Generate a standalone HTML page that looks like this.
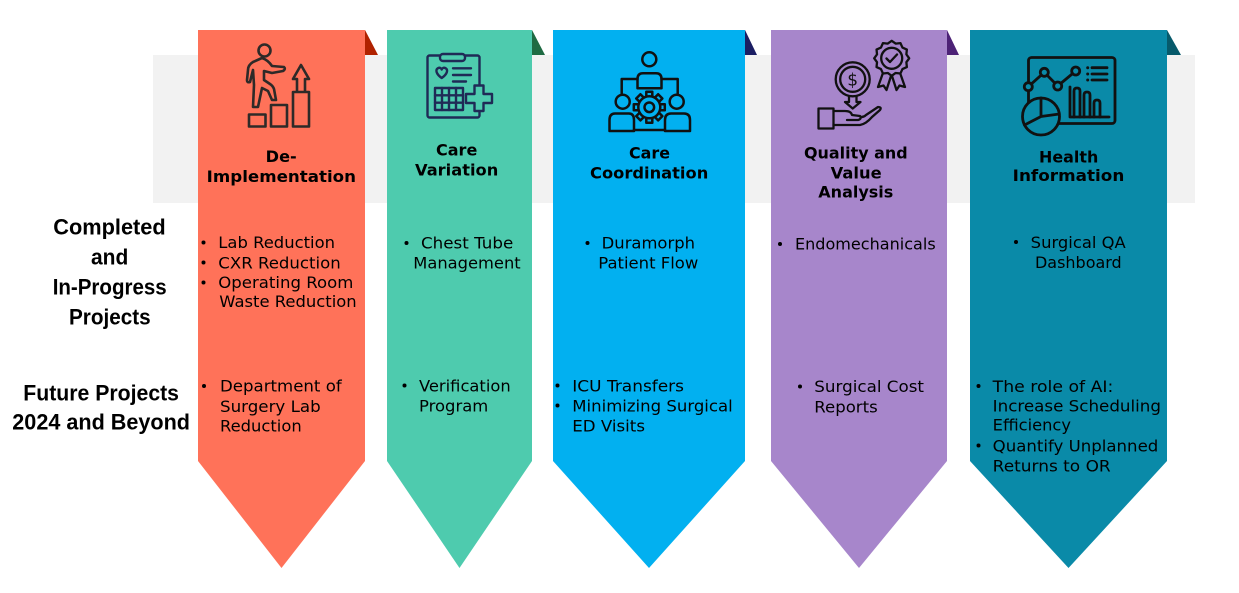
<!DOCTYPE html>
<html><head><meta charset="utf-8">
<style>
html,body{margin:0;padding:0;background:#fff;}
svg{display:block;}
.b{font-family:"DejaVu Sans","Liberation Sans",sans-serif;font-size:16px;fill:#000;}
.h{font-family:"DejaVu Sans","Liberation Sans",sans-serif;font-size:16px;font-weight:bold;fill:#000;}
.l{font-family:"Liberation Sans","DejaVu Sans",sans-serif;font-size:22px;font-weight:bold;fill:#000;}
</style></head>
<body>
<svg width="1239" height="593" viewBox="0 0 1239 593" xmlns="http://www.w3.org/2000/svg">
<rect x="0" y="0" width="1239" height="593" fill="#fff"/>
<!-- gray band -->
<rect x="153" y="55" width="1042" height="148" fill="#F2F2F2"/>

<!-- fold triangles -->
<polygon points="365,30 378,55 365,55" fill="#B02200"/>
<polygon points="532,30 545,55 532,55" fill="#1F6B43"/>
<polygon points="745,30 757,55 745,55" fill="#1B1E63"/>
<polygon points="947,30 959,55 947,55" fill="#4D2276"/>
<polygon points="1167,30 1181,55 1167,55" fill="#075A6B"/>

<!-- columns -->
<polygon points="198,30 365,30 365,461 281.5,568 198,461" fill="#FF7259"/>
<polygon points="387,30 532,30 532,461 459.5,568 387,461" fill="#4ECBAE"/>
<polygon points="553,30 745,30 745,461 649,568 553,461" fill="#02B0F0"/>
<polygon points="771,30 947,30 947,461 859,568 771,461" fill="#A786CB"/>
<polygon points="970,30 1167,30 1167,461 1068.5,568 970,461" fill="#0A8AA8"/>

<!-- Icon 1: climbing person -->
<g fill="none" stroke="#2E2A28" stroke-width="2.6" stroke-linejoin="round" stroke-linecap="round">
  <circle cx="264.5" cy="50.5" r="6"/>
  <path d="M262,58 L253,62 Q248,65 248,70 L247,80 Q247,83 250,82 L253,70 L254,85 L253,107 L258,107 L262,88 L268,91 L272,100 L276,100 L274,89 Q273,86 270,84 L264,80 L264,71 L272,73 L283,71 Q286,69 284,67 L272,66 Q268,60 262,58 Z"/>
  <rect x="249" y="114.5" width="16.5" height="12"/>
  <rect x="271" y="105" width="16" height="21.5"/>
  <rect x="293" y="92" width="16" height="34.5"/>
  <path d="M297,91.5 V79 H293 L301,65 L309,79 H305 V91.5"/>
</g>

<!-- Icon 2: clipboard -->
<g fill="none" stroke="#1F2A56" stroke-width="2.4" stroke-linejoin="round" stroke-linecap="round">
  <rect x="427.5" y="55.5" width="52" height="62" rx="2"/>
  <rect x="440" y="54" width="25" height="7" rx="3" fill="#4ECBAE"/>
  <path d="M441.7,78 C436,74 435.5,70 437.5,68.5 C439.5,67 441.2,68 441.7,69.5 C442.2,68 444,67 446,68.5 C448,70 447.5,74 441.7,78 Z"/>
  <path d="M453,68.3 H471 M453,75 H471 M453,81.5 H466"/>
  <rect x="435" y="88" width="28" height="22"/>
  <path d="M442,88 V110 M449,88 V110 M456,88 V110 M435,95.3 H463 M435,102.7 H463"/>
  <path d="M474.5,85.5 H483.5 V94 H492 V103 H483.5 V111 H474.5 V103 H466 V94 H474.5 Z" fill="#4ECBAE"/>
</g>

<!-- Icon 3: team + gear -->
<g fill="none" stroke="#111" stroke-width="2.5" stroke-linejoin="round" stroke-linecap="round">
  <circle cx="649.3" cy="59.3" r="7"/>
  <path d="M637.5,88.3 V79 Q637.5,73.3 643,73.3 H656 Q661.5,73.3 661.5,79 V88.3 Z"/>
  <path d="M637.5,79 H621.7 V94 M661.5,79 H677.7 V94"/>
  <circle cx="622.7" cy="101.7" r="7"/>
  <path d="M609.5,131 V120 Q609.5,113.5 615,113.5 H629 Q634,113.5 634,120 V131 Z"/>
  <circle cx="676.7" cy="101.7" r="7"/>
  <path d="M665,131 V120 Q665,113.5 671,113.5 H684 Q690,113.5 690,120 V131 Z"/>
  <path d="M634,130 H665"/>
  <g transform="translate(649.3,107.3)">
    <rect x="-3" y="-15.5" width="6" height="6" fill="#02B0F0"/>
    <rect x="-3" y="-15.5" width="6" height="6" fill="#02B0F0" transform="rotate(45)"/>
    <rect x="-3" y="-15.5" width="6" height="6" fill="#02B0F0" transform="rotate(90)"/>
    <rect x="-3" y="-15.5" width="6" height="6" fill="#02B0F0" transform="rotate(135)"/>
    <rect x="-3" y="-15.5" width="6" height="6" fill="#02B0F0" transform="rotate(180)"/>
    <rect x="-3" y="-15.5" width="6" height="6" fill="#02B0F0" transform="rotate(225)"/>
    <rect x="-3" y="-15.5" width="6" height="6" fill="#02B0F0" transform="rotate(270)"/>
    <rect x="-3" y="-15.5" width="6" height="6" fill="#02B0F0" transform="rotate(315)"/>
    <circle r="11" fill="#02B0F0"/>
    <circle r="4.8"/>
  </g>
</g>

<!-- Icon 4: money hand + badge -->
<g fill="none" stroke="#111" stroke-width="2.3" stroke-linejoin="round" stroke-linecap="round">
  <circle cx="852.7" cy="79.3" r="17"/>
  <circle cx="852.7" cy="79.3" r="12.5"/>
  <path d="M849,96.5 V102 H845 L852.7,108.5 L860.5,102 H856.5 V96.5"/>
  <rect x="818.5" y="108.5" width="15" height="20"/>
  <path d="M833.5,111 L845,111 Q851,111 852,115 L860,116 Q862,119 858,120 L847,120 M833.5,125 L860,125 Q866,124 872,117 L880,110 Q882,107 878,107 L866,115 Q864,117 861,117"/>
  <path d="M884,70 L878,87 L883.5,85.5 L886.5,90 L891,76 M899,70 L905,87 L899.5,85.5 L896.5,90 L892,76"/>
  <polygon transform="translate(891.7,58.3)" fill="#A786CB" points="17.5,0 14.68,3.93 15.16,8.75 10.75,10.75 8.75,15.16 3.93,14.68 0,17.5 -3.93,14.68 -8.75,15.16 -10.75,10.75 -15.16,8.75 -14.68,3.93 -17.5,0 -14.68,-3.93 -15.16,-8.75 -10.75,-10.75 -8.75,-15.16 -3.93,-14.68 0,-17.5 3.93,-14.68 8.75,-15.16 10.75,-10.75 15.16,-8.75 14.68,-3.93"/>
  <circle cx="891.7" cy="58.3" r="10.5"/>
  <path d="M886.5,58.5 L890,62 L897,54.5"/>
</g>
<text x="852.7" y="85.5" text-anchor="middle" font-family="DejaVu Sans, sans-serif" font-size="17" fill="#111">$</text>

<!-- Icon 5: dashboard -->
<g fill="none" stroke="#111" stroke-width="2.8" stroke-linejoin="round" stroke-linecap="round">
  <rect x="1028.5" y="57.5" width="86.5" height="66" rx="3"/>
  <polyline points="1028.3,86.7 1044.3,72.3 1057.7,86 1075.7,71"/>
  <circle cx="1028.3" cy="86.7" r="4" fill="#0A8AA8"/>
  <circle cx="1044.3" cy="72.3" r="4" fill="#0A8AA8"/>
  <circle cx="1057.7" cy="86" r="4" fill="#0A8AA8"/>
  <circle cx="1075.7" cy="71" r="4" fill="#0A8AA8"/>
  <path d="M1092,67.7 H1107 M1092,74 H1107 M1092,80 H1107"/>
  <path d="M1070,87 V117 H1109"/>
  <path d="M1074,117 V91 Q1074,88 1077,88 Q1080,88 1080,91 V117 M1084,117 V95 Q1084,92 1087,92 Q1090,92 1090,95 V117 M1094,117 V103 Q1094,100 1097,100 Q1100,100 1100,103 V117"/>
  <circle cx="1041" cy="116.5" r="18.5" fill="#0A8AA8"/>
  <path d="M1041,98 V116.5 L1059.3,114 M1041,116.5 L1024.5,125"/>
</g>
<g fill="#111">
  <circle cx="1087.7" cy="67.7" r="1.5"/><circle cx="1087.7" cy="74" r="1.5"/><circle cx="1087.7" cy="80" r="1.5"/>
</g>

<!-- Headers -->
<text class="h" x="265.7" y="162" textLength="31" lengthAdjust="spacingAndGlyphs">De-</text>
<text class="h" x="206.7" y="182" textLength="149.3" lengthAdjust="spacingAndGlyphs">Implementation</text>
<text class="h" x="436" y="155.3" textLength="41.3" lengthAdjust="spacingAndGlyphs">Care</text>
<text class="h" x="415" y="175.3" textLength="83.3" lengthAdjust="spacingAndGlyphs">Variation</text>
<text class="h" x="629" y="158.3" textLength="41" lengthAdjust="spacingAndGlyphs">Care</text>
<text class="h" x="590" y="178.3" textLength="118.3" lengthAdjust="spacingAndGlyphs">Coordination</text>
<text class="h" x="804" y="158.3" textLength="103.7" lengthAdjust="spacingAndGlyphs">Quality and</text>
<text class="h" x="830.7" y="178.3" textLength="51" lengthAdjust="spacingAndGlyphs">Value</text>
<text class="h" x="818.3" y="197.7" textLength="75" lengthAdjust="spacingAndGlyphs">Analysis</text>
<text class="h" x="1039" y="162.7" textLength="59.3" lengthAdjust="spacingAndGlyphs">Health</text>
<text class="h" x="1012.7" y="181" textLength="111.6" lengthAdjust="spacingAndGlyphs">Information</text>

<!-- Left labels -->
<text class="l" x="53.3" y="234.3" textLength="112.4" lengthAdjust="spacingAndGlyphs">Completed</text>
<text class="l" x="91" y="264.3" textLength="37.3" lengthAdjust="spacingAndGlyphs">and</text>
<text class="l" x="52.7" y="294.3" textLength="114" lengthAdjust="spacingAndGlyphs">In-Progress</text>
<text class="l" x="69" y="324.3" textLength="81.7" lengthAdjust="spacingAndGlyphs">Projects</text>
<text class="l" x="23.3" y="400.3" textLength="155.7" lengthAdjust="spacingAndGlyphs">Future Projects</text>
<text class="l" x="12.3" y="429.3" textLength="177.7" lengthAdjust="spacingAndGlyphs">2024 and Beyond</text>

<!-- Bullets -->
<g fill="#000">
  <circle cx="203.5" cy="242.5" r="2"/><circle cx="203.5" cy="262.5" r="2"/><circle cx="203.5" cy="282.5" r="2"/>
  <circle cx="204" cy="386" r="2"/>
  <circle cx="406.5" cy="243" r="2"/><circle cx="404.5" cy="385.5" r="2"/>
  <circle cx="587.5" cy="243" r="2"/><circle cx="557.5" cy="385.5" r="2"/><circle cx="557.5" cy="405.5" r="2"/>
  <circle cx="780" cy="244" r="2"/><circle cx="800" cy="386.5" r="2"/>
  <circle cx="1016" cy="242" r="2"/><circle cx="978.5" cy="386" r="2"/><circle cx="978.5" cy="445.5" r="2"/>
</g>

<!-- Body text -->
<text class="b" x="218.3" y="248" textLength="116.7" lengthAdjust="spacingAndGlyphs">Lab Reduction</text>
<text class="b" x="218.3" y="268.3" textLength="122.4" lengthAdjust="spacingAndGlyphs">CXR Reduction</text>
<text class="b" x="218.3" y="288" textLength="135" lengthAdjust="spacingAndGlyphs">Operating Room</text>
<text class="b" x="219.3" y="307" textLength="137.4" lengthAdjust="spacingAndGlyphs">Waste Reduction</text>
<text class="b" x="220" y="391.6" textLength="121.7" lengthAdjust="spacingAndGlyphs">Department of</text>
<text class="b" x="220" y="412" textLength="100.7" lengthAdjust="spacingAndGlyphs">Surgery Lab</text>
<text class="b" x="220" y="431.3" textLength="81.7" lengthAdjust="spacingAndGlyphs">Reduction</text>

<text class="b" x="421" y="248.6" textLength="92.3" lengthAdjust="spacingAndGlyphs">Chest Tube</text>
<text class="b" x="413.3" y="268.6" textLength="107.4" lengthAdjust="spacingAndGlyphs">Management</text>
<text class="b" x="419" y="391.3" textLength="91.7" lengthAdjust="spacingAndGlyphs">Verification</text>
<text class="b" x="419" y="411.3" textLength="69.3" lengthAdjust="spacingAndGlyphs">Program</text>

<text class="b" x="601.7" y="248.6" textLength="93.3" lengthAdjust="spacingAndGlyphs">Duramorph</text>
<text class="b" x="598.3" y="268.6" textLength="100" lengthAdjust="spacingAndGlyphs">Patient Flow</text>
<text class="b" x="572.3" y="391.3" textLength="111.7" lengthAdjust="spacingAndGlyphs">ICU Transfers</text>
<text class="b" x="572.3" y="411.3" textLength="160.4" lengthAdjust="spacingAndGlyphs">Minimizing Surgical</text>
<text class="b" x="572.3" y="431.3" textLength="72.7" lengthAdjust="spacingAndGlyphs">ED Visits</text>

<text class="b" x="795" y="249.6" textLength="140.7" lengthAdjust="spacingAndGlyphs">Endomechanicals</text>
<text class="b" x="814.3" y="392" textLength="109.7" lengthAdjust="spacingAndGlyphs">Surgical Cost</text>
<text class="b" x="814.3" y="412.3" textLength="63.4" lengthAdjust="spacingAndGlyphs">Reports</text>

<text class="b" x="1030.7" y="248" textLength="95" lengthAdjust="spacingAndGlyphs">Surgical QA</text>
<text class="b" x="1035" y="268" textLength="86.7" lengthAdjust="spacingAndGlyphs">Dashboard</text>
<text class="b" x="992.7" y="392" textLength="120.6" lengthAdjust="spacingAndGlyphs">The role of AI:</text>
<text class="b" x="992.7" y="411.3" textLength="168.3" lengthAdjust="spacingAndGlyphs">Increase Scheduling</text>
<text class="b" x="992.7" y="430.6" textLength="78.3" lengthAdjust="spacingAndGlyphs">Efficiency</text>
<text class="b" x="992.7" y="451.3" textLength="165.6" lengthAdjust="spacingAndGlyphs">Quantify Unplanned</text>
<text class="b" x="992.7" y="471.3" textLength="118" lengthAdjust="spacingAndGlyphs">Returns to OR</text>
</svg>
</body></html>
